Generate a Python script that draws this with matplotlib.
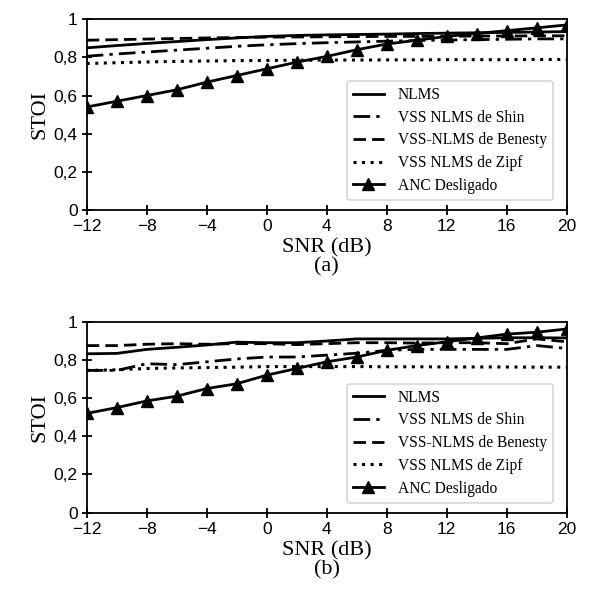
import matplotlib
matplotlib.use("Agg")
import matplotlib.pyplot as plt

# Dados (SNR em dB, valores de STOI)
snr = [-12, -10, -8, -6, -4, -2, 0, 2, 4, 6, 8, 10, 12, 14, 16, 18, 20]

# (a)
nlms_a = [0.85, 0.862, 0.873, 0.883, 0.893, 0.902, 0.91, 0.915, 0.918,
          0.92, 0.922, 0.925, 0.927, 0.929, 0.931, 0.933, 0.935]
shin_a = [0.806, 0.818, 0.828, 0.838, 0.848, 0.858, 0.866, 0.872, 0.877,
          0.881, 0.885, 0.888, 0.891, 0.893, 0.895, 0.897, 0.897]
benesty_a = [0.89, 0.893, 0.896, 0.899, 0.902, 0.904, 0.906, 0.907, 0.908,
             0.909, 0.91, 0.91, 0.911, 0.912, 0.912, 0.913, 0.913]
zipf_a = [0.768, 0.772, 0.776, 0.779, 0.781, 0.783, 0.784, 0.785, 0.786,
          0.786, 0.787, 0.787, 0.788, 0.788, 0.788, 0.789, 0.789]
anc_a = [0.54, 0.57, 0.60, 0.63, 0.67, 0.705, 0.74, 0.775, 0.805,
         0.84, 0.87, 0.89, 0.91, 0.925, 0.94, 0.955, 0.97]

# (b)
nlms_b = [0.832, 0.834, 0.855, 0.866, 0.878, 0.893, 0.89, 0.89, 0.899,
          0.91, 0.91, 0.91, 0.91, 0.913, 0.916, 0.916, 0.915]
shin_b = [0.745, 0.745, 0.78, 0.775, 0.79, 0.805, 0.815, 0.815, 0.825,
          0.835, 0.85, 0.855, 0.855, 0.855, 0.855, 0.875, 0.86]
benesty_b = [0.875, 0.875, 0.882, 0.885, 0.882, 0.885, 0.885, 0.88, 0.885,
             0.89, 0.89, 0.888, 0.89, 0.89, 0.885, 0.91, 0.895]
zipf_b = [0.745, 0.748, 0.755, 0.758, 0.76, 0.762, 0.765, 0.765, 0.765,
          0.765, 0.764, 0.764, 0.763, 0.763, 0.763, 0.762, 0.762]
anc_b = [0.52, 0.55, 0.585, 0.61, 0.65, 0.675, 0.72, 0.755, 0.79,
         0.815, 0.85, 0.875, 0.895, 0.915, 0.935, 0.945, 0.962]

labels = ["NLMS", "VSS NLMS de Shin", "VSS-NLMS de Benesty",
          "VSS NLMS de Zipf", "ANC Desligado"]
xticks = [-12, -8, -4, 0, 4, 8, 12, 16, 20]
yticks = [0, 0.2, 0.4, 0.6, 0.8, 1]
ytick_labels = ["0", "0,2", "0,4", "0,6", "0,8", "1"]

serif = "Liberation Serif"
sans = "Liberation Sans"

fig = plt.figure(figsize=(5.96, 6.01), dpi=100)
ax_a = fig.add_axes([0.1455, 0.6506, 0.8054, 0.3174])
ax_b = fig.add_axes([0.1455, 0.147, 0.8054, 0.3177])

panels = [(ax_a, nlms_a, shin_a, benesty_a, zipf_a, anc_a, "(a)"),
          (ax_b, nlms_b, shin_b, benesty_b, zipf_b, anc_b, "(b)")]

for ax, nlms, shin, benesty, zipf, anc, tag in panels:
    lw = 2.0
    ax.plot(snr, nlms, color="black", lw=lw, ls="-", label=labels[0])
    ax.plot(snr, shin, color="black", lw=lw, ls=(0, (6, 2.2, 1.2, 2.2)), label=labels[1])
    ax.plot(snr, benesty, color="black", lw=lw, ls=(0, (4.5, 2.2)), label=labels[2])
    ax.plot(snr, zipf, color="black", lw=lw + 0.2, ls=(0, (1, 1.8)), label=labels[3])
    ax.plot(snr, anc, color="black", lw=lw, ls="-", marker="^", ms=8,
            label=labels[4])

    ax.set_xlim(-12, 20)
    ax.set_ylim(0, 1)
    ax.set_xticks(xticks)
    ax.set_xticklabels([str(t).replace("-", "\u2212") for t in xticks],
                       fontname=sans, fontsize=12.5)
    ax.set_yticks(yticks)
    ax.set_yticklabels(ytick_labels, fontname=sans, fontsize=12.5)
    ax.tick_params(direction="inout", length=7, width=1.3, top=False, right=False,
                   pad=3)
    for s in ax.spines.values():
        s.set_linewidth(1.3)

    ax.set_ylabel("STOI", fontname=serif, fontsize=16, labelpad=3)
    ax.set_xlabel("SNR (dB)", fontname=serif, fontsize=16, labelpad=3)
    ax.text(0.5, -0.3, tag, transform=ax.transAxes, ha="center", va="center",
            fontname=serif, fontsize=16)

    # legenda no canto inferior direito
    leg = ax.legend(loc="lower right", bbox_to_anchor=(0.9715, 0.052),
                    borderaxespad=0.0,
                    prop={"family": serif, "size": 11.2}, handlelength=2.0,
                    borderpad=0.4, labelspacing=0.43, handletextpad=0.9,
                    fancybox=True)
    leg.get_frame().set_linewidth(1.2)

fig.savefig("out.png", dpi=100)
